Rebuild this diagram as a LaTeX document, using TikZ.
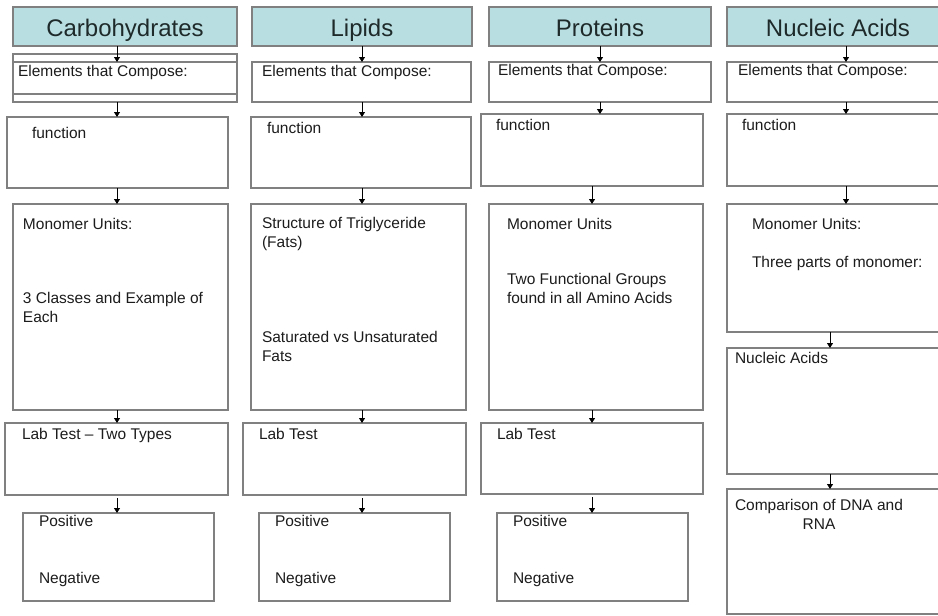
\documentclass[tikz,border=0pt]{standalone}
\usepackage{fontspec}
\setmainfont{Liberation Sans}
\usetikzlibrary{arrows.meta}
\definecolor{headfill}{HTML}{B9DEE2}
\definecolor{edgegray}{HTML}{808080}
\definecolor{ink}{HTML}{1C1C1C}
\definecolor{headink}{HTML}{1E2A2A}
\newcommand\mkbox[6]{\node[#1, anchor=north west, minimum width={(#5-#3)*1pt}, minimum height={(#6-#4)*1pt}] (#2) at (#3,#4) {};}
\newcommand\mkhead[6]{\node[head, anchor=north west, minimum width={(#4-#2)*1pt}, minimum height={(#5-#3)*1pt}] (#1) at (#2,#3) {#6};}
\begin{document}
\begin{tikzpicture}[x=1pt,y=-1pt,
  box/.style={draw=edgegray, line width=1.2pt, inner sep=0pt, outer sep=0pt, fill=white},
  head/.style={box, fill=headfill, font=\fontsize{24}{28}\selectfont, text=headink, text height=20pt, text depth=0pt},
  txt/.style={inner sep=0pt, outer sep=0pt, font=\fontsize{15.5}{19}\selectfont, text=ink, align=left},
  arr/.style={draw=black, line width=0.9pt, -{Triangle[length=5pt,width=6pt]}}]
\useasboundingbox (0,0) rectangle (938,616);
\clip (0,0) rectangle (938,616);
% headers
\mkhead{h1}{13}{7}{237}{46}{Carbohydrates}
\mkhead{h2}{252}{7}{472}{46}{Lipids}
\mkhead{h3}{489}{7}{711}{46}{Proteins}
\mkhead{h4}{727}{7}{949}{46}{Nucleic Acids}
% column 1
\mkbox{box}{e1o}{13}{54}{237}{102}
\mkbox{box}{e1}{13}{62}{237}{94}
\mkbox{box}{f1}{7}{117}{228}{188}
\mkbox{box}{m1}{13}{204}{228}{410}
\mkbox{box}{l1}{5}{423}{228}{495}
\mkbox{box}{p1}{23}{513}{214}{601}
% column 2
\mkbox{box}{e2}{252}{62}{471}{102}
\mkbox{box}{f2}{251}{117}{471}{188}
\mkbox{box}{m2}{251}{204}{466}{410}
\mkbox{box}{l2}{243}{423}{466}{495}
\mkbox{box}{p2}{259}{513}{450}{601}
% column 3
\mkbox{box}{e3}{489}{62}{711}{102}
\mkbox{box}{f3}{481}{114}{703}{186}
\mkbox{box}{m3}{489}{204}{703}{410}
\mkbox{box}{l3}{481}{423}{703}{494}
\mkbox{box}{p3}{497}{513}{688}{601}
% column 4
\mkbox{box}{e4}{727}{62}{949}{102}
\mkbox{box}{f4}{727}{114}{949}{186}
\mkbox{box}{m4}{727}{204}{949}{332}
\mkbox{box}{n4}{727}{348}{949}{474}
\mkbox{box}{c4}{727}{489}{949}{614}
% texts column 1
\node[txt, anchor=base west] (t1a) at (18,76) {Elements that Compose:};
\node[txt, anchor=base west] (t1b) at (32,138) {function};
\node[txt, anchor=base west] (t1c) at (23,229) {Monomer Units:};
\node[txt, anchor=north west] (t1d) at (23,292.7) {3 Classes and Example of\\Each};
\node[txt, anchor=base west] (t1e) at (22,439) {Lab Test -- Two Types};
\node[txt, anchor=base west] (t1f) at (39,526) {Positive};
\node[txt, anchor=base west] (t1g) at (39,583) {Negative};
% texts column 2
\node[txt, anchor=base west] (t2a) at (262,76) {Elements that Compose:};
\node[txt, anchor=base west] (t2b) at (267,133) {function};
\node[txt, anchor=north west] (t2c) at (262,217.7) {Structure of Triglyceride\\(Fats)};
\node[txt, anchor=north west] (t2d) at (262,331.7) {Saturated vs Unsaturated\\Fats};
\node[txt, anchor=base west] (t2e) at (259,439) {Lab Test};
\node[txt, anchor=base west] (t2f) at (275,526) {Positive};
\node[txt, anchor=base west] (t2g) at (275,583) {Negative};
% texts column 3
\node[txt, anchor=base west] (t3a) at (498,75) {Elements that Compose:};
\node[txt, anchor=base west] (t3b) at (496,130) {function};
\node[txt, anchor=base west] (t3c) at (507,229) {Monomer Units};
\node[txt, anchor=north west] (t3d) at (507,273.7) {Two Functional Groups\\found in all Amino Acids};
\node[txt, anchor=base west] (t3e) at (497,439) {Lab Test};
\node[txt, anchor=base west] (t3f) at (513,526) {Positive};
\node[txt, anchor=base west] (t3g) at (513,583) {Negative};
% texts column 4
\node[txt, anchor=base west] (t4a) at (738,75) {Elements that Compose:};
\node[txt, anchor=base west] (t4b) at (742,130) {function};
\node[txt, anchor=base west] (t4c) at (752,229) {Monomer Units:};
\node[txt, anchor=base west] (t4d) at (752,267) {Three parts of monomer:};
\node[txt, anchor=base west] (t4e) at (735,363) {Nucleic Acids};
\node[txt, anchor=north west, align=center] (t4f) at (735,499.7) {Comparison of DNA and\\RNA};
% arrow columns
\coordinate (a1) at (117,0);
\coordinate (a2) at (362,0);
\coordinate (a3) at (600,0);
\coordinate (a3b) at (592,0);
\coordinate (a4) at (846,0);
\coordinate (a4b) at (830,0);
% arrows
\draw[arr] (h1.south -| a1) -- (e1.north -| a1);
\draw[arr] (e1o.south -| a1) -- (f1.north -| a1);
\draw[arr] (f1.south -| a1) -- (m1.north -| a1);
\draw[arr] (m1.south -| a1) -- (l1.north -| a1);
\draw[arr] ([yshift=-3pt]l1.south -| a1) -- (p1.north -| a1);
\draw[arr] (h2.south -| a2) -- (e2.north -| a2);
\draw[arr] (e2.south -| a2) -- (f2.north -| a2);
\draw[arr] (f2.south -| a2) -- (m2.north -| a2);
\draw[arr] (m2.south -| a2) -- (l2.north -| a2);
\draw[arr] ([yshift=-3pt]l2.south -| a2) -- (p2.north -| a2);
\draw[arr] (h3.south -| a3) -- (e3.north -| a3);
\draw[arr] (e3.south -| a3) -- (f3.north -| a3);
\draw[arr] (f3.south -| a3b) -- (m3.north -| a3b);
\draw[arr] (m3.south -| a3b) -- (l3.north -| a3b);
\draw[arr] ([yshift=-3pt]l3.south -| a3b) -- (p3.north -| a3b);
\draw[arr] (h4.south -| a4) -- (e4.north -| a4);
\draw[arr] (e4.south -| a4) -- (f4.north -| a4);
\draw[arr] (f4.south -| a4) -- (m4.north -| a4);
\draw[arr] (m4.south -| a4b) -- (n4.north -| a4b);
\draw[arr] (n4.south -| a4b) -- (c4.north -| a4b);
\end{tikzpicture}
\end{document}
